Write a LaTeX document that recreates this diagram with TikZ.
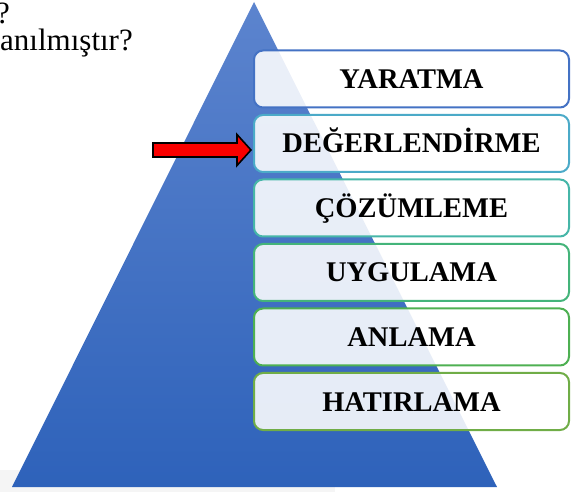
\documentclass[tikz,border=0pt]{standalone}
\usepackage{fontspec}
\setmainfont{Liberation Serif}
\usetikzlibrary{calc}
\definecolor{triTop}{RGB}{92,132,206}
\definecolor{triBot}{RGB}{46,98,186}
\definecolor{cA}{RGB}{68,114,196}
\definecolor{cB}{RGB}{75,170,200}
\definecolor{cC}{RGB}{70,182,168}
\definecolor{cD}{RGB}{68,180,122}
\definecolor{cE}{RGB}{78,176,82}
\definecolor{cF}{RGB}{112,173,71}
\definecolor{arrRed}{RGB}{250,0,0}
\tikzset{
  levelbox/.style={draw=#1, line width=2pt, rounded corners=9pt, fill=white,
    fill opacity=0.88, text opacity=1, minimum width=315pt, minimum height=57pt,
    inner sep=0pt, text height=19pt, text depth=0pt,
    font=\fontsize{28.5}{31}\selectfont\bfseries},
  toptext/.style={font=\fontsize{31}{34}\selectfont, inner sep=0pt},
  redarrow/.style={fill=arrRed, draw=black, line width=1.6pt, line join=miter}
}
\begin{document}
\begin{tikzpicture}[x=1pt,y=-1pt]
\useasboundingbox (0,0) rectangle (574,492);
% faint reflection at the bottom
\fill[black!4] (0,470) rectangle (335,492);
% pyramid
\shade[top color=triTop, bottom color=triBot] (254,2) -- (497,487) -- (12,487) -- cycle;
% top-left text
\node[toptext, anchor=base east] (q1) at (10,23.5) {?};
\node[toptext, anchor=base east] (q2) at (133,51) {anılmıştır?};
% levels
\node[levelbox=cA] (b1) at (411.5,79) {YARATMA};
\node[levelbox=cB] (b2) at (411.5,143.5) {DEĞERLENDİRME};
\node[levelbox=cC] (b3) at (411.5,208) {ÇÖZÜMLEME};
\node[levelbox=cD] (b4) at (411.5,272.5) {UYGULAMA};
\node[levelbox=cE] (b5) at (411.5,337) {ANLAMA};
\node[levelbox=cF] (b6) at (411.5,401.5) {HATIRLAMA};
% arrow pointing at DEĞERLENDİRME
\coordinate (tip) at ($(b2.west)+(-2,6.5)$);
\draw[redarrow] (tip) -- ++(-14,-15.5) -- ++(0,8.5) -- ++(-84,0) -- ++(0,14)
  -- ++(84,0) -- ++(0,8.5) -- cycle;
\end{tikzpicture}
\end{document}
